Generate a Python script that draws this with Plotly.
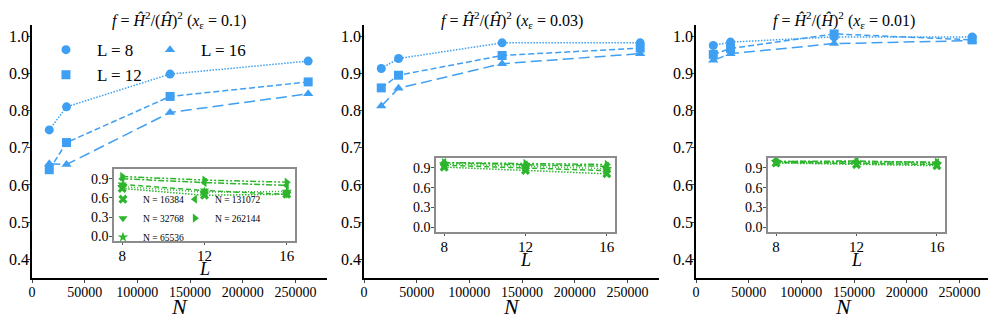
import plotly.graph_objects as go

# data
N_main = [16384, 32768, 131072, 262144]
L_vals = [8, 12, 16]
N_inset = [16384, 32768, 65536, 131072, 262144]
xe_labels = ["0.1", "0.03", "0.01"]

# f values, rows = L (8, 12, 16), cols = N_main
f_xe01 = [[0.748, 0.810, 0.898, 0.933],
          [0.641, 0.714, 0.838, 0.877],
          [0.657, 0.655, 0.795, 0.845]]
f_xe003 = [[0.913, 0.940, 0.982, 0.982],
           [0.861, 0.895, 0.948, 0.968],
           [0.812, 0.860, 0.926, 0.953]]
f_xe001 = [[0.975, 0.984, 0.998, 0.998],
           [0.951, 0.967, 1.006, 0.990],
           [0.935, 0.953, 0.980, 0.988]]

# inset: rows = N_inset, cols = L
g_xe01 = [[0.748, 0.641, 0.657],
          [0.810, 0.714, 0.655],
          [0.775, 0.690, 0.700],
          [0.898, 0.838, 0.795],
          [0.933, 0.877, 0.845]]
g_xe003 = [[0.913, 0.861, 0.812],
           [0.940, 0.895, 0.860],
           [0.960, 0.920, 0.890],
           [0.982, 0.948, 0.926],
           [0.982, 0.968, 0.953]]
g_xe001 = [[0.975, 0.951, 0.935],
           [0.984, 0.967, 0.953],
           [0.990, 0.980, 0.965],
           [0.998, 1.006, 0.980],
           [0.998, 0.990, 0.988]]

main_data = [f_xe01, f_xe003, f_xe001]
inset_data = [g_xe01, g_xe003, g_xe001]

BLUE = "#3f9ff2"
GREEN = "#2db52d"
FONT = "'Liberation Serif', 'Times New Roman', serif"

L_symbols = ["circle", "square", "triangle-up"]
L_dash = ["1.5px,1.5px", "6px,3px", "11px,5px"]
N_symbols = ["x", "triangle-down", "star", "triangle-left", "triangle-right"]
N_dash = ["1.5px,1.5px", "5px,3px", "1px,2px", "6px,2px,2px,2px", "6px,2px,2px,2px,2px,2px"]

fig = go.Figure()

for p in range(3):
    xa = "x" if p == 0 else "x%d" % (p + 1)
    ya = "y" if p == 0 else "y%d" % (p + 1)
    for i, L in enumerate(L_vals):
        fig.add_trace(go.Scatter(x=N_main, y=main_data[p][i], mode="lines+markers",
                                 xaxis=xa, yaxis=ya, showlegend=False,
                                 line=dict(color=BLUE, width=1.5, dash=L_dash[i]),
                                 marker=dict(symbol=L_symbols[i], size=9, color=BLUE)))
    xi = "x%d" % (p + 4)
    yi = "y%d" % (p + 4)
    for j, N in enumerate(N_inset):
        fig.add_trace(go.Scatter(x=L_vals, y=[inset_data[p][j][k] for k in range(3)],
                                 mode="lines+markers", xaxis=xi, yaxis=yi, showlegend=False,
                                 line=dict(color=GREEN, width=1.5, dash=N_dash[j]),
                                 marker=dict(symbol=N_symbols[j], size=8, color=GREEN)))

# legend entries (markers only, like the matplotlib legend)
for i, L in enumerate(L_vals):
    fig.add_trace(go.Scatter(x=[None], y=[None], mode="markers", name="L = %d" % L,
                             legend="legend" if i < 2 else "legend2",
                             marker=dict(symbol=L_symbols[i], size=9, color=BLUE)))
for j, N in enumerate(N_inset):
    fig.add_trace(go.Scatter(x=[None], y=[None], mode="markers", name="N = %d" % N,
                             legend="legend3" if j < 3 else "legend4",
                             marker=dict(symbol=N_symbols[j], size=8, color=GREEN)))

main_dom = [[0, 0.3076], [0.3462, 0.6538], [0.6924, 1.0]]
inset_x = [[0.0855, 0.2742], [0.4213, 0.6079], [0.7675, 0.952]]
inset_y = [[0.146, 0.431], [0.182, 0.474], [0.182, 0.474]]

# the page body adds an 8px margin, so the figure is 8px smaller than the window
layout = dict(
    width=988, height=317,
    margin=dict(l=24, r=5, t=17, b=47, autoexpand=False),
    plot_bgcolor="white", paper_bgcolor="white",
    font=dict(family=FONT, color="black"),
)

for p in range(3):
    sx = "xaxis" if p == 0 else "xaxis%d" % (p + 1)
    sy = "yaxis" if p == 0 else "yaxis%d" % (p + 1)
    anc_x = "y" if p == 0 else "y%d" % (p + 1)
    anc_y = "x" if p == 0 else "x%d" % (p + 1)
    layout[sx] = dict(domain=main_dom[p], anchor=anc_x, range=[0, 280000],
                      tickvals=[0, 50000, 100000, 150000, 200000, 250000], tickformat="d",
                      showgrid=False, zeroline=False, showline=True, linecolor="black",
                      linewidth=1.5, ticks="outside", ticklen=3, tickwidth=1.2,
                      ticklabelstandoff=-3,
                      tickfont=dict(family=FONT, size=14), automargin=False)
    layout[sy] = dict(domain=[0, 1], anchor=anc_y, range=[0.35, 1.03],
                      tickvals=[0.4, 0.5, 0.6, 0.7, 0.8, 0.9, 1.0], tickformat=".1f",
                      showgrid=False, zeroline=False, showline=True, linecolor="black",
                      linewidth=1.5, ticks="outside", ticklen=3, tickwidth=1.2,
                      ticklabelstandoff=-5,
                      tickfont=dict(family=FONT, size=16), automargin=False)
    layout["xaxis%d" % (p + 4)] = dict(domain=inset_x[p], anchor="y%d" % (p + 4),
                                       range=[7.6, 16.4], tickvals=[8, 12, 16],
                                       showgrid=False, zeroline=False, showline=True, mirror=True,
                                       linecolor="#8c8c8c", linewidth=1.5, ticks="outside",
                                       ticklen=2, tickcolor="#555", automargin=False,
                                       ticklabelstandoff=-2,
                                       tickfont=dict(family=FONT, size=15))
    layout["yaxis%d" % (p + 4)] = dict(domain=inset_y[p], anchor="x%d" % (p + 4),
                                       range=[-0.07, 1.05], tickvals=[0, 0.3, 0.6, 0.9],
                                       tickformat=".1f", automargin=False,
                                       showgrid=False, zeroline=False, showline=True, mirror=True,
                                       linecolor="#8c8c8c", linewidth=1.5, ticks="outside",
                                       ticklen=3, tickcolor="#555", ticklabelstandoff=-2,
                                       tickfont=dict(family=FONT, size=14))

layout["legend"] = dict(x=0.0031, y=0.972, xanchor="left", yanchor="top", bgcolor="rgba(0,0,0,0)",
                        font=dict(family=FONT, size=17), itemwidth=52)
layout["legend2"] = dict(x=0.1116, y=0.972, xanchor="left", yanchor="top", bgcolor="rgba(0,0,0,0)",
                         font=dict(family=FONT, size=17), itemwidth=52)
layout["legend3"] = dict(x=0.074, y=0.369, xanchor="left", yanchor="top", bgcolor="rgba(0,0,0,0)",
                         font=dict(family=FONT, size=9.5), itemwidth=30)
layout["legend4"] = dict(x=0.149, y=0.369, xanchor="left", yanchor="top", bgcolor="rgba(0,0,0,0)",
                         font=dict(family=FONT, size=9.5), itemwidth=30)

annotations = []
for p in range(3):
    annotations.append(dict(
        text="<i>f</i> = <i>Ĥ</i><sup>2</sup>/(<i>Ĥ</i>)<sup>2</sup> (<i>x</i><sub>ε</sub> = %s)" % xe_labels[p],
        x=(main_dom[p][0] + main_dom[p][1]) / 2, y=1.0, xref="paper", yref="paper",
        xanchor="center", yanchor="bottom", yshift=-8, showarrow=False,
        font=dict(family=FONT, size=16)))
    annotations.append(dict(
        text="<i>N</i>", x=(main_dom[p][0] + main_dom[p][1]) / 2, y=0,
        xref="paper", yref="paper", xanchor="center", yanchor="middle", yshift=-28,
        showarrow=False, font=dict(family=FONT, size=22)))
    annotations.append(dict(
        text="<i>L</i>", x=(inset_x[p][0] + inset_x[p][1]) / 2, y=inset_y[p][0],
        xref="paper", yref="paper", xanchor="center", yanchor="middle", yshift=-28,
        showarrow=False, font=dict(family=FONT, size=18)))
layout["annotations"] = annotations

fig.update_layout(**layout)
fig.write_html("out.html")
